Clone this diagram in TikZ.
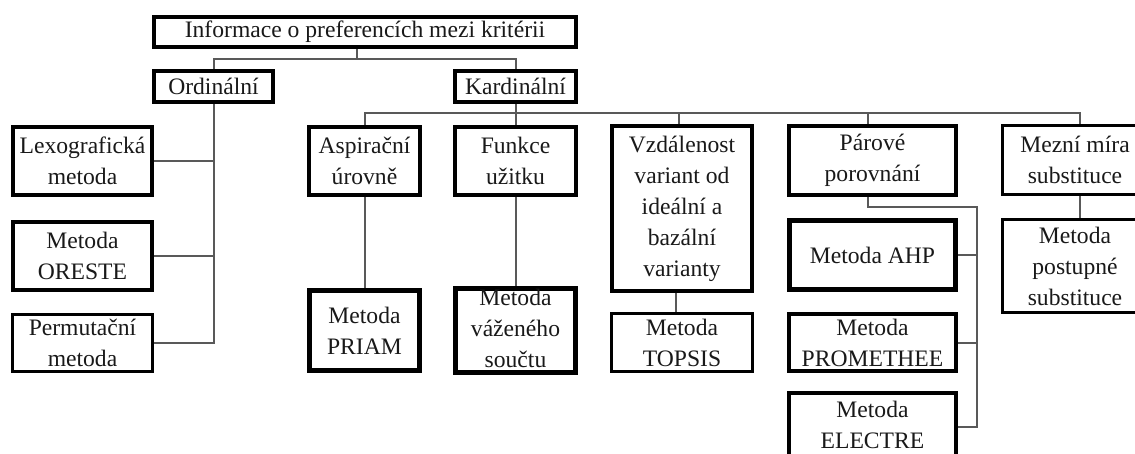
\documentclass[tikz,border=0pt]{standalone}
\usepackage{fontspec}
\setmainfont{Liberation Serif}
\newcommand\boxfont{\fontsize{23.6}{31}\selectfont}
\tikzset{
  cbox/.style={draw=black, line width=4pt, fill=white, inner sep=0pt, align=center, font=\boxfont, text=black!90},
  thinbox/.style={cbox, line width=3pt},
  conn/.style={draw=black!65, line width=2pt}
}
\begin{document}
\begin{tikzpicture}[x=1pt,y=-1pt]
\useasboundingbox (0,0) rectangle (1135,453);
\clip (0,0) rectangle (1135,453);
% nodes
\node[cbox, minimum width=422pt, minimum height=30pt] (top) at (365,32) {Informace o preferencích mezi kritérii};
\node[cbox, minimum width=119pt, minimum height=31pt] (ord) at (213.5,86.5) {Ordinální};
\node[cbox, minimum width=121pt, minimum height=31pt] (kard) at (515.5,86.5) {Kardinální};
\node[cbox, minimum width=139pt, minimum height=68pt] (lexo) at (82.5,161) {Lexografická\\metoda};
\node[cbox, minimum width=139pt, minimum height=68pt] (oreste) at (82.5,256) {Metoda\\ORESTE};
\node[thinbox, minimum width=140pt, minimum height=57pt] (perm) at (82.5,343) {Permutační\\metoda};
\node[cbox, minimum width=111pt, minimum height=68pt] (asp) at (364.5,161) {Aspirační\\úrovně};
\node[cbox, minimum width=121pt, minimum height=68pt] (funk) at (515.5,161) {Funkce\\užitku};
\node[cbox, line width=5pt, minimum width=110pt, minimum height=80pt] (priam) at (364.5,330.5) {Metoda\\PRIAM};
\node[cbox, line width=5pt, minimum width=120pt, minimum height=80pt, text depth=5pt] (vaz) at (515.5,330.5) {Metoda\\váženého\\součtu};
\node[cbox, minimum width=140pt, minimum height=165pt] (vzd) at (682,208.5) {Vzdálenost\\variant od\\ideální a\\bazální\\varianty};
\node[thinbox, minimum width=141pt, minimum height=58pt] (topsis) at (682,342.5) {Metoda\\TOPSIS};
\node[cbox, minimum width=167pt, minimum height=69pt] (par) at (872.5,160.5) {Párové\\porovnání};
\node[cbox, line width=5pt, minimum width=166pt, minimum height=69pt] (ahp) at (872.5,255) {Metoda AHP};
\node[cbox, minimum width=167pt, minimum height=57pt] (prom) at (872.5,342.5) {Metoda\\PROMETHEE};
\node[cbox, minimum width=167pt, minimum height=64pt] (elec) at (872.5,425) {Metoda\\ELECTRE};
\node[thinbox, minimum width=145pt, minimum height=69pt] (mez) at (1075,160) {Mezní míra\\substituce};
\node[thinbox, minimum width=145pt, minimum height=93pt] (post) at (1075,266) {Metoda\\postupné\\substituce};
% junction coordinates
\coordinate (j1) at (357,59);
\coordinate (kbar) at (1080,113);
\coordinate (pv) at (977,207);
% connectors
\draw[conn] (top.south -| j1) -- (j1);
\draw[conn] (ord.north) |- (j1) -| (kard.north);
\draw[conn] (ord.south) -- (ord.south |- perm.east) -- (perm.east);
\draw[conn] (lexo.east) -- (lexo.east -| ord.south);
\draw[conn] (oreste.east) -- (oreste.east -| ord.south);
\draw[conn] (kard.south) -- (funk.north);
\draw[conn] (asp.north) |- (kbar) -- (kbar |- mez.north);
\draw[conn] ([xshift=-3pt]vzd.north) -- ([xshift=-3pt]vzd.north |- kbar);
\draw[conn] ([xshift=-4.5pt]par.north) -- ([xshift=-4.5pt]par.north |- kbar);
\draw[conn] (asp.south) -- (priam.north);
\draw[conn] (funk.south) -- (vaz.north);
\draw[conn] ([xshift=-6pt]vzd.south) -- ([xshift=-6pt]topsis.north);
\draw[conn] ([xshift=-4.5pt]par.south) |- (pv) -- (pv |- 0,427) -- (elec.east |- 0,427);
\draw[conn] (ahp.east) -- (ahp.east -| pv);
\draw[conn] (prom.east) -- (prom.east -| pv);
\draw[conn] ([xshift=5pt]mez.south) -- ([xshift=5pt]post.north);
\end{tikzpicture}
\end{document}
